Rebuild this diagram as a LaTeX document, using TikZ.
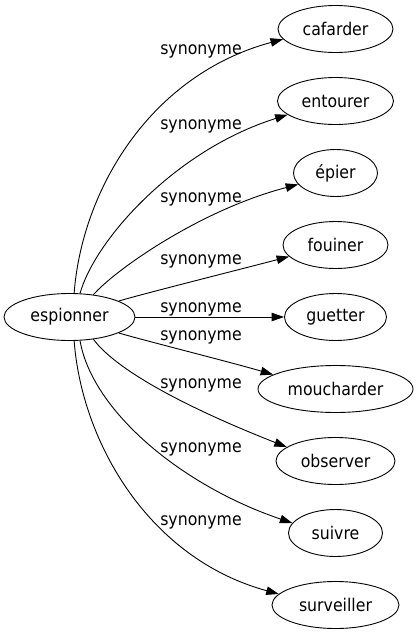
\documentclass[tikz,border=0pt]{standalone}
\usepackage{fontspec}
\setmainfont{DejaVu Sans Condensed}
\usetikzlibrary{shapes.geometric,arrows.meta}
\tikzset{
  word/.style={ellipse,draw,line width=0.9pt,inner sep=0pt,minimum height=47pt,font=\fontsize{17.5pt}{20pt}\selectfont},
  rel/.style={line width=0.9pt,-{Triangle[length=12.5pt,width=8.5pt]}},
  lab/.style={font=\fontsize{17.5pt}{20pt}\selectfont,inner sep=0pt,anchor=base}
}
\begin{document}
\begin{tikzpicture}[x=1pt,y=-1pt]
\useasboundingbox (0,0) rectangle (417,635);
\node[word,minimum width=131pt] (esp) at (69.5,317) {espionner};
\node[word,minimum width=115pt] (caf) at (335.5,29) {cafarder};
\node[word,minimum width=116pt] (ent) at (335.5,101) {entourer};
\node[word,minimum width=84pt] (epi) at (335.5,173) {épier};
\node[word,minimum width=105pt] (fou) at (335.5,245) {fouiner};
\node[word,minimum width=102pt] (gue) at (335.5,317) {guetter};
\node[word,minimum width=155pt] (mou) at (335.5,389) {moucharder};
\node[word,minimum width=119pt] (obs) at (335.5,461) {observer};
\node[word,minimum width=94pt] (sui) at (335.5,533) {suivre};
\node[word,minimum width=127pt] (sur) at (335.5,605) {surveiller};

\draw[rel] (esp.79) .. controls (82,190) and (150,75) .. (caf.191);
\draw[rel] (esp.66) .. controls (95,240) and (175,150) .. (ent.196);
\draw[rel] (esp.43) .. controls (115,270) and (200,210) .. (epi.197);
\draw[rel] (esp.18.6) .. controls (150,292) and (230,272) .. (fou.194);
\draw[rel] (esp.east) -- (gue.west);
\draw[rel] (esp.-18.6) .. controls (150,342) and (230,362) .. (mou.167);
\draw[rel] (esp.-43) .. controls (120,375) and (205,415) .. (obs.164);
\draw[rel] (esp.-66) .. controls (92,410) and (180,485) .. (sui.167);
\draw[rel] (esp.-79) .. controls (82,444) and (150,559) .. (sur.169);

\node[lab] (l1) at (201,54.5) {synonyme};
\node[lab] (l2) at (201,129) {synonyme};
\node[lab] (l3) at (201,202) {synonyme};
\node[lab] (l4) at (201,264) {synonyme};
\node[lab] (l5) at (201,312) {synonyme};
\node[lab] (l6) at (201,340) {synonyme};
\node[lab] (l7) at (201,388) {synonyme};
\node[lab] (l8) at (201,452) {synonyme};
\node[lab] (l9) at (201,525) {synonyme};
\end{tikzpicture}
\end{document}
